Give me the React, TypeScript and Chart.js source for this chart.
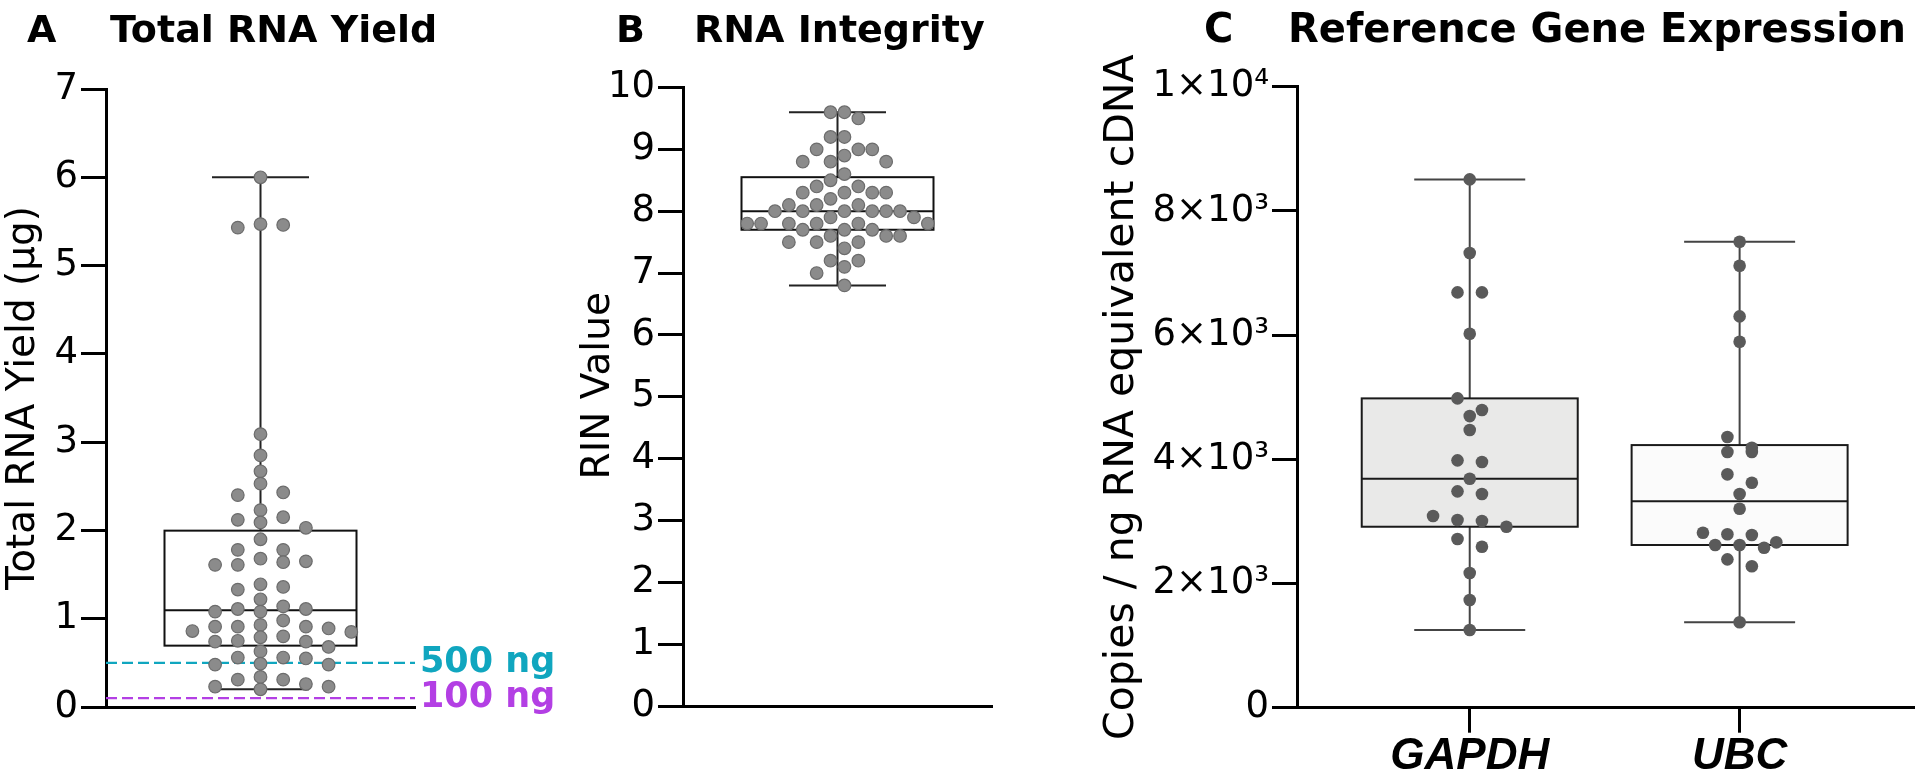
import React, { useEffect, useRef } from 'react';
import { Chart, registerables } from 'chart.js';

Chart.register(...registerables);

// ---------------- Panel A: total RNA yield (µg) ----------------
const yieldUg = [6.0, 5.47, 5.46, 5.43, 3.09, 2.85, 2.67, 2.53, 2.43, 2.40, 2.23, 2.15, 2.12, 2.09, 2.03, 1.90, 1.78, 1.78, 1.68, 1.65, 1.64, 1.61, 1.61, 1.39, 1.36, 1.33, 1.22, 1.14, 1.11, 1.11, 1.08, 1.08, 0.98, 0.93, 0.91, 0.91, 0.91, 0.89, 0.86, 0.85, 0.80, 0.79, 0.75, 0.74, 0.74, 0.68, 0.63, 0.56, 0.56, 0.55, 0.49, 0.48, 0.48, 0.34, 0.31, 0.31, 0.26, 0.23, 0.23, 0.20];
const yieldCutoffs = [0.5, 0.1];
const yieldCutoffLabels = ['500 ng', '100 ng'];
const yieldTicks = [0, 1, 2, 3, 4, 5, 6, 7];
const yieldAxisTitle = 'Total RNA Yield (µg)';

// ---------------- Panel B: RNA integrity (RIN) ----------------
const rinValues = [9.6, 9.6, 9.5, 9.2, 9.2, 9.0, 9.0, 9.0, 8.9, 8.8, 8.8, 8.8, 8.6, 8.5, 8.4, 8.4, 8.3, 8.3, 8.3, 8.3, 8.2, 8.1, 8.1, 8.1, 8.0, 8.0, 8.0, 8.0, 8.0, 8.0, 7.9, 7.9, 7.8, 7.8, 7.8, 7.8, 7.8, 7.8, 7.7, 7.7, 7.7, 7.6, 7.6, 7.6, 7.5, 7.5, 7.5, 7.4, 7.2, 7.2, 7.1, 7.0, 6.8];
const rinTicks = [0, 1, 2, 3, 4, 5, 6, 7, 8, 9, 10];
const rinAxisTitle = 'RIN Value';

// ---------------- Panel C: reference gene expression ----------------
const genes = ['GAPDH', 'UBC'];
const gapdhCopies = [8507, 7321, 6688, 6688, 6022, 4981, 4793, 4696, 4471, 3983, 3956, 3687, 3484, 3441, 3086, 3022, 3006, 2914, 2716, 2592, 2169, 1734, 1251];
const ubcCopies = [7503, 7116, 6301, 5893, 4358, 4186, 4117, 4117, 3758, 3623, 3441, 3204, 2818, 2792, 2780, 2663, 2620, 2620, 2576, 2389, 2277, 1375];
const copiesTicks = [0, 2000, 4000, 6000, 8000, 10000];
const copiesTickLabels = ['0', '2×10³', '4×10³', '6×10³', '8×10³', '1×10⁴'];
const copiesAxisTitle = 'Copies / ng RNA equivalent cDNA';

const panelLetters = ['A', 'B', 'C'];
const panelTitles = ['Total RNA Yield', 'RNA Integrity', 'Reference Gene Expression'];

// ---------------- styling / layout ----------------
const SANS = '"DejaVu Sans", Verdana, sans-serif';
const ARIAL = '"Liberation Sans", Arial, Helvetica, sans-serif';
const H = 781;
const CYAN = '#10a6bf';
const MAGENTA = '#b33fe4';

const LAYOUT_A = { left: 0, width: 575, plotLeft: 106, plotRight: 415, plotTop: 89, plotBottom: 707, xMin: -0.5, xMax: 0.5, yMax: 7, yTitleX: 23.5, yTitleShift: 0, yTitleSize: 39 };
const LAYOUT_B = { left: 575, width: 465, plotLeft: 683, plotRight: 992, plotTop: 87.5, plotBottom: 706, xMin: -0.5, xMax: 0.5, yMax: 10, yTitleX: 599, yTitleShift: -11, yTitleSize: 39 };
const LAYOUT_C = { left: 1040, width: 880, plotLeft: 1297, plotRight: 1920, plotTop: 86.7, plotBottom: 707.7, xMin: -0.64, xMax: 1.645, yMax: 10000, yTitleX: 1122, yTitleShift: 0, yTitleSize: 41 };

const TITLE_POS = [
  { letterX: 27, textX: 110, size: 38 },
  { letterX: 616, textX: 694, size: 38 },
  { letterX: 1204, textX: 1288, size: 40 },
];

// ---------------- helpers ----------------
function quantile(sorted: number[], p: number) {
  const n = sorted.length;
  const pos = (n + 1) * p;
  const lo = Math.min(Math.max(Math.floor(pos), 1), n);
  const hi = Math.min(Math.max(Math.ceil(pos), 1), n);
  const f = pos - Math.floor(pos);
  return sorted[lo - 1] + (sorted[hi - 1] - sorted[lo - 1]) * f;
}

function boxStats(values: number[]) {
  const s = [...values].sort((a, b) => a - b);
  return { min: s[0], q1: quantile(s, 0.25), median: quantile(s, 0.5), q3: quantile(s, 0.75), max: s[s.length - 1] };
}

// greedy beeswarm: each point (highest first) takes the first free column
function swarmGreedy(values: number[], pxPerValue: number, stepPx: number, minDist: number, halfCols: boolean) {
  const order = values.map((_, i) => i).sort((a, b) => values[b] - values[a]);
  const cands: number[] = [];
  if (halfCols) { for (let k = 0; k < 30; k++) cands.push(k + 0.5, -(k + 0.5)); }
  else { cands.push(0); for (let k = 1; k < 30; k++) cands.push(k, -k); }
  const placed: { x: number; y: number }[] = [];
  const out = new Array(values.length).fill(0);
  for (const i of order) {
    const y = values[i] * pxPerValue;
    for (const c of cands) {
      const x = c * stepPx;
      if (placed.every((p) => (p.x - x) ** 2 + (p.y - y) ** 2 >= minDist * minDist - 1e-6)) {
        placed.push({ x, y });
        out[i] = x;
        break;
      }
    }
  }
  return out;
}

// row beeswarm: points closer than rowPx share a row, centred on the group
function swarmRows(values: number[], pxPerValue: number, stepPx: number, rowPx: number) {
  const order = values.map((_, i) => i).sort((a, b) => values[b] - values[a]);
  const out = new Array(values.length).fill(0);
  let k = 0;
  while (k < order.length) {
    const first = values[order[k]];
    const row = [order[k]];
    k++;
    while (k < order.length && (first - values[order[k]]) * pxPerValue < rowPx) { row.push(order[k]); k++; }
    row.forEach((idx, j) => { out[idx] = (j - (row.length - 1) / 2) * stepPx; });
  }
  return out;
}

function toPoints(values: number[], group: number, offsetsPx: number[], pxPerX: number) {
  return values.map((v, i) => ({ x: group + offsetsPx[i] / pxPerX, y: v }));
}

function makeDecoPlugin(deco: any) {
  return {
    id: 'panelDeco',
    beforeDatasetsDraw(chart: any) {
      const { ctx, chartArea, scales } = chart;
      const xs = scales.x;
      const ys = scales.y;
      ctx.save();
      for (const g of deco.groups) {
        const cx = xs.getPixelForValue(g.pos);
        const yMin = ys.getPixelForValue(g.stats.min);
        const yQ1 = ys.getPixelForValue(g.stats.q1);
        const yMed = ys.getPixelForValue(g.stats.median);
        const yQ3 = ys.getPixelForValue(g.stats.q3);
        const yMax = ys.getPixelForValue(g.stats.max);
        const hw = deco.boxWidth / 2;
        const cw = deco.capWidth / 2;
        ctx.strokeStyle = deco.whiskerColor;
        ctx.lineWidth = deco.whiskerWidth;
        ctx.beginPath();
        ctx.moveTo(cx, yQ3); ctx.lineTo(cx, yMax);
        ctx.moveTo(cx, yQ1); ctx.lineTo(cx, yMin);
        ctx.moveTo(cx - cw, yMax); ctx.lineTo(cx + cw, yMax);
        ctx.moveTo(cx - cw, yMin); ctx.lineTo(cx + cw, yMin);
        ctx.stroke();
        ctx.fillStyle = g.fill;
        ctx.fillRect(cx - hw, yQ3, 2 * hw, yQ1 - yQ3);
        ctx.strokeStyle = deco.boxColor;
        ctx.lineWidth = deco.boxLineWidth;
        ctx.strokeRect(cx - hw, yQ3, 2 * hw, yQ1 - yQ3);
        ctx.beginPath();
        ctx.moveTo(cx - hw, yMed); ctx.lineTo(cx + hw, yMed);
        ctx.stroke();
      }
      for (const r of deco.refLines || []) {
        const y = ys.getPixelForValue(r.value);
        ctx.setLineDash([11, 5]);
        ctx.strokeStyle = r.color;
        ctx.lineWidth = 2.2;
        ctx.beginPath();
        ctx.moveTo(chartArea.left, y); ctx.lineTo(chartArea.right, y);
        ctx.stroke();
        ctx.setLineDash([]);
        ctx.fillStyle = r.color;
        ctx.font = `bold 35px ${SANS}`;
        ctx.textAlign = 'left';
        ctx.textBaseline = 'middle';
        ctx.fillText(r.label, chartArea.right + 5, y);
      }
      ctx.restore();
    },
    afterDraw(chart: any) {
      const { ctx, scales } = chart;
      const ys = scales.y;
      ctx.save();
      ctx.translate(deco.yTitleX, (ys.top + ys.bottom) / 2 + (deco.yTitleShift || 0));
      ctx.rotate(-Math.PI / 2);
      ctx.font = deco.yTitleFont;
      ctx.fillStyle = '#000';
      ctx.textAlign = 'center';
      ctx.textBaseline = 'middle';
      ctx.fillText(deco.yTitle, 0, 0);
      ctx.restore();
    },
  };
}

function yScale(L: any, ticks: number[], labels: string[]) {
  return {
    type: 'linear',
    min: 0,
    max: L.yMax,
    afterFit: (s: any) => { s.width = L.plotLeft - L.left; },
    afterBuildTicks: (s: any) => { s.ticks = ticks.map((v) => ({ value: v })); },
    ticks: {
      callback: (_v: any, i: number) => labels[i],
      font: { family: SANS, size: 37 },
      color: '#000',
      padding: 3,
      autoSkip: false,
    },
    grid: { display: true, drawOnChartArea: false, drawTicks: true, tickLength: 25, tickWidth: 3, tickColor: '#000', color: '#000', lineWidth: 3 },
    border: { display: true, width: 3, color: '#000' },
  };
}

function baseOptions(L: any, xBottomHeight: number) {
  return {
    animation: false,
    responsive: true,
    maintainAspectRatio: false,
    events: [],
    layout: {
      padding: {
        left: 0,
        top: L.plotTop,
        right: L.left + L.width - L.plotRight,
        bottom: H - L.plotBottom - xBottomHeight,
      },
    },
    plugins: { legend: { display: false }, tooltip: { enabled: false }, title: { display: false } },
  };
}

const hiddenX = (L: any) => ({
  type: 'linear', min: L.xMin, max: L.xMax,
  afterFit: (s: any) => { s.height = 0; },
  grid: { display: false }, ticks: { display: false },
  border: { display: true, width: 3, color: '#000' },
});

const greyDots = { pointRadius: 6.3, pointHoverRadius: 6.3, backgroundColor: '#8b8b8b', borderColor: '#6c6c6c', borderWidth: 1.2, clip: false };

function configA() {
  const L = LAYOUT_A;
  const pxPerY = (L.plotBottom - L.plotTop) / L.yMax;
  const pxPerX = (L.plotRight - L.plotLeft) / (L.xMax - L.xMin);
  const offs = swarmGreedy(yieldUg, pxPerY, 22.7, 12, false);
  return {
    type: 'scatter',
    data: { datasets: [{ label: 'Total RNA yield', data: toPoints(yieldUg, 0, offs, pxPerX), ...greyDots }] },
    options: {
      ...baseOptions(L, 0),
      scales: { x: hiddenX(L), y: yScale(L, yieldTicks, yieldTicks.map(String)) },
    },
    plugins: [makeDecoPlugin({
      groups: [{ pos: 0, stats: boxStats(yieldUg), fill: '#ffffff' }],
      boxWidth: 192, capWidth: 97, boxColor: '#111', boxLineWidth: 2, whiskerColor: '#222', whiskerWidth: 2,
      refLines: yieldCutoffs.map((v, i) => ({ value: v, label: yieldCutoffLabels[i], color: i === 0 ? CYAN : MAGENTA })),
      yTitle: yieldAxisTitle, yTitleX: L.yTitleX - L.left, yTitleShift: L.yTitleShift, yTitleFont: `${L.yTitleSize}px ${SANS}`,
    })],
  };
}

function configB() {
  const L = LAYOUT_B;
  const pxPerY = (L.plotBottom - L.plotTop) / L.yMax;
  const pxPerX = (L.plotRight - L.plotLeft) / (L.xMax - L.xMin);
  const offs = swarmGreedy(rinValues, pxPerY, 13.9, 12.6, true);
  return {
    type: 'scatter',
    data: { datasets: [{ label: 'RIN', data: toPoints(rinValues, 0, offs, pxPerX), ...greyDots }] },
    options: {
      ...baseOptions(L, 0),
      scales: { x: hiddenX(L), y: yScale(L, rinTicks, rinTicks.map(String)) },
    },
    plugins: [makeDecoPlugin({
      groups: [{ pos: 0, stats: boxStats(rinValues), fill: '#ffffff' }],
      boxWidth: 192, capWidth: 97, boxColor: '#111', boxLineWidth: 2, whiskerColor: '#222', whiskerWidth: 2,
      yTitle: rinAxisTitle, yTitleX: L.yTitleX - L.left, yTitleShift: L.yTitleShift, yTitleFont: `${L.yTitleSize}px ${SANS}`,
    })],
  };
}

function configC() {
  const L = LAYOUT_C;
  const pxPerY = (L.plotBottom - L.plotTop) / L.yMax;
  const pxPerX = (L.plotRight - L.plotLeft) / (L.xMax - L.xMin);
  const xAxisHeight = H - L.plotBottom;
  const series = [gapdhCopies, ubcCopies];
  return {
    type: 'scatter',
    data: {
      datasets: series.map((vals, gi) => ({
        label: genes[gi],
        data: toPoints(vals, gi, swarmRows(vals, pxPerY, 24.7, 12), pxPerX),
        pointRadius: 6.3, pointHoverRadius: 6.3,
        backgroundColor: '#5a5a5a', borderColor: '#5a5a5a', borderWidth: 0, clip: false,
      })),
    },
    options: {
      ...baseOptions(L, xAxisHeight),
      scales: {
        x: {
          type: 'linear', min: L.xMin, max: L.xMax,
          afterFit: (s: any) => { s.height = xAxisHeight; },
          afterBuildTicks: (s: any) => { s.ticks = genes.map((_, i) => ({ value: i })); },
          ticks: {
            callback: (_v: any, i: number) => genes[i],
            font: { family: ARIAL, size: 44, weight: 'bold', style: 'italic', lineHeight: 1 },
            color: '#000', padding: 2, maxRotation: 0, autoSkip: false,
          },
          grid: { display: true, drawOnChartArea: false, drawTicks: true, tickLength: 25, tickWidth: 3, tickColor: '#000', color: '#000', lineWidth: 3 },
          border: { display: true, width: 3, color: '#000' },
        },
        y: yScale(L, copiesTicks, copiesTickLabels),
      },
    },
    plugins: [makeDecoPlugin({
      groups: [
        { pos: 0, stats: boxStats(gapdhCopies), fill: '#e9e9e8' },
        { pos: 1, stats: boxStats(ubcCopies), fill: '#fbfbfb' },
      ],
      boxWidth: 216, capWidth: 111, boxColor: '#1a1a1a', boxLineWidth: 2, whiskerColor: '#444', whiskerWidth: 2,
      yTitle: copiesAxisTitle, yTitleX: L.yTitleX - L.left, yTitleShift: L.yTitleShift, yTitleFont: `${L.yTitleSize}px ${SANS}`,
    })],
  };
}

export default function App() {
  const refA = useRef<HTMLCanvasElement>(null);
  const refB = useRef<HTMLCanvasElement>(null);
  const refC = useRef<HTMLCanvasElement>(null);

  useEffect(() => {
    const charts = [
      new Chart(refA.current as HTMLCanvasElement, configA() as any),
      new Chart(refB.current as HTMLCanvasElement, configB() as any),
      new Chart(refC.current as HTMLCanvasElement, configC() as any),
    ];
    return () => charts.forEach((c) => c.destroy());
  }, []);

  const layouts = [LAYOUT_A, LAYOUT_B, LAYOUT_C];
  const refs = [refA, refB, refC];
  const titleStyle = (size: number): any => ({
    position: 'absolute', top: 42 - 0.846 * size, font: `bold ${size}px ${SANS}`, lineHeight: `${size}px`, whiteSpace: 'pre', color: '#000',
  });

  return (
    <div style={{ position: 'fixed', left: 0, top: 0, width: 1920, height: H, background: '#fff', overflow: 'hidden' }}>
      {layouts.map((L, i) => (
        <div key={i} style={{ position: 'absolute', left: L.left, top: 0, width: L.width, height: H }}>
          <canvas ref={refs[i]} />
        </div>
      ))}
      {panelLetters.map((letter, i) => (
        <React.Fragment key={letter}>
          <span style={{ ...titleStyle(TITLE_POS[i].size), left: TITLE_POS[i].letterX }}>{letter}</span>
          <span style={{ ...titleStyle(TITLE_POS[i].size), left: TITLE_POS[i].textX }}>{panelTitles[i]}</span>
        </React.Fragment>
      ))}
    </div>
  );
}
